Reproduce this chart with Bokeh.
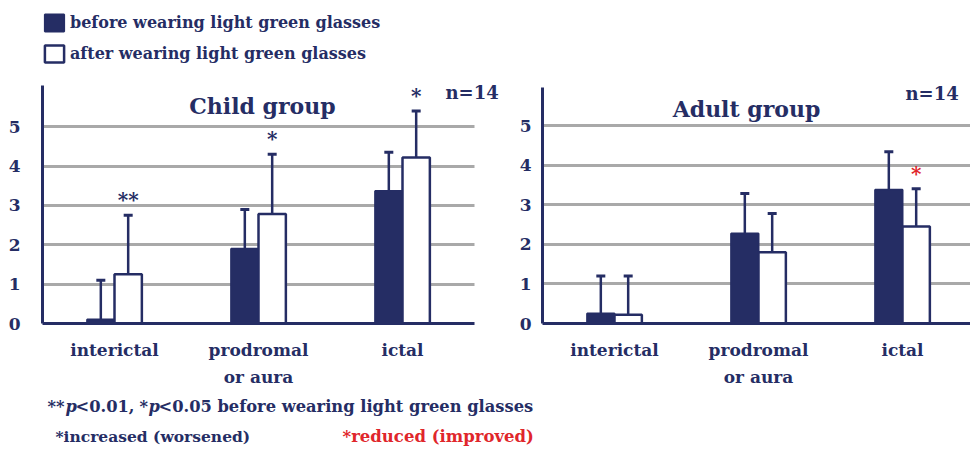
from bokeh.plotting import figure
from bokeh.models import (ColumnDataSource, Whisker, TeeHead, FixedTicker, Label,
                          Legend, LegendItem, Range1d)
from bokeh.layouts import row, column
from bokeh.embed import file_html
from bokeh.resources import INLINE
from bokeh.core.properties import value

# ---- data -------------------------------------------------------------
categories = ["interictal", "prodromal\nor aura", "ictal"]
y_ticks = [0, 1, 2, 3, 4, 5]

child_before = [0.10, 1.90, 3.37]
child_before_sd = [1.00, 1.00, 0.98]
child_after = [1.25, 2.78, 4.22]
child_after_sd = [1.50, 1.52, 1.18]
child_marks = ["**", "*", "*"]

adult_before = [0.25, 2.27, 3.38]
adult_before_sd = [0.95, 1.01, 0.96]
adult_after = [0.22, 1.80, 2.45]
adult_after_sd = [0.98, 0.98, 0.95]
adult_marks = ["", "", "*"]

# ---- style ------------------------------------------------------------
NAVY = "#252d64"
RED = "#e0262b"
GRID = "#a9a9a9"
FONT = "DejaVu Serif"
BAR_W = 0.19
X_UNIT = 144          # pixels per category
PANEL_H = 395         # height of the two chart panels
FOOT_H = 451 - PANEL_H


def panel(before, before_sd, after, after_sd, marks, mark_color,
          width, border_left, frame_bottom, y_unit, y_axis_top, y_standoff):
    x_end = -0.5 + (width - border_left) / X_UNIT
    y_end = frame_bottom / y_unit
    p = figure(width=width, height=PANEL_H,
               x_range=Range1d(-0.5, x_end), y_range=Range1d(0, y_end),
               output_backend="svg", toolbar_location=None,
               min_border_left=border_left, min_border_right=0,
               min_border_top=0, min_border_bottom=PANEL_H - frame_bottom,
               background_fill_color="white", border_fill_color="white",
               outline_line_color=None)

    xs = list(range(len(categories)))
    src_b = ColumnDataSource(dict(
        x=[i - BAR_W / 2 for i in xs], top=before,
        upper=[m + s for m, s in zip(before, before_sd)]))
    src_a = ColumnDataSource(dict(
        x=[i + BAR_W / 2 for i in xs], top=after,
        upper=[m + s for m, s in zip(after, after_sd)], mark=marks))

    rb = p.vbar(x="x", top="top", width=BAR_W, source=src_b,
                fill_color=NAVY, line_color=NAVY, line_width=2)
    ra = p.vbar(x="x", top="top", width=BAR_W, source=src_a,
                fill_color="white", line_color=NAVY, line_width=2.5)

    for src in (src_b, src_a):
        p.add_layout(Whisker(base="x", lower="top", upper="upper", source=src,
                             line_color=NAVY, line_width=2.5,
                             upper_head=TeeHead(size=9, line_color=NAVY, line_width=3),
                             lower_head=None))

    # significance marks above the "after" bars
    p.text(x="x", y="upper", text="mark", source=src_a,
           text_color=mark_color, text_font=value(FONT), text_font_style="bold",
           text_font_size="20px", text_align="center", text_baseline="middle",
           y_offset=-15)

    # axes
    p.xaxis.ticker = FixedTicker(ticks=xs)
    p.xaxis.major_label_overrides = {i: c for i, c in enumerate(categories)}
    p.xaxis.bounds = (-0.5, min(2.5, x_end))
    p.yaxis.ticker = FixedTicker(ticks=y_ticks)
    p.yaxis.bounds = (0, y_axis_top)
    for ax in (p.xaxis[0], p.yaxis[0]):
        ax.axis_line_color = NAVY
        ax.axis_line_width = 3
        ax.major_tick_line_color = None
        ax.minor_tick_line_color = None
        ax.major_label_text_font = FONT
        ax.major_label_text_font_style = "bold"
        ax.major_label_text_color = NAVY
    p.xaxis.major_label_text_font_size = "17px"
    p.xaxis.major_label_text_line_height = 1.35
    p.xaxis.major_label_standoff = 10
    p.yaxis.major_label_text_font_size = "17px"
    p.yaxis.major_label_standoff = y_standoff

    p.xgrid.visible = False
    p.ygrid.ticker = FixedTicker(ticks=y_ticks[1:])
    p.ygrid.cross_bounds = (-0.5, min(2.5, x_end))
    p.ygrid.grid_line_color = GRID
    p.ygrid.grid_line_width = 3
    return p, rb, ra


C_UNIT = 241 / 6.05
A_UNIT = 236 / 5.96

child, rb, ra = panel(child_before, child_before_sd, child_after, child_after_sd,
                      child_marks, NAVY, width=515, border_left=42,
                      frame_bottom=327, y_unit=C_UNIT, y_axis_top=6.05, y_standoff=16)
adult, _, _ = panel(adult_before, adult_before_sd, adult_after, adult_after_sd,
                    adult_marks, RED, width=455, border_left=27,
                    frame_bottom=323, y_unit=A_UNIT, y_axis_top=5.96, y_standoff=5)


# pixel -> data helpers for text placement in each panel
def cx(px):
    return -0.5 + (px - 42) / X_UNIT


def cy(py):
    return (327 - py) / C_UNIT


def ax_(px):
    return -0.5 + (px - 542) / X_UNIT


def ay(py):
    return (323 - py) / A_UNIT


def lab(p, x, y, text, color=NAVY, size="15px", style="bold", align="left"):
    p.add_layout(Label(x=x, y=y, text=text, text_color=color, text_font=FONT,
                       text_font_style=style, text_font_size=size,
                       text_align=align, text_baseline="middle"))


# panel titles and sample sizes
lab(child, cx(262), cy(107), "Child group", size="22px", align="center")
lab(child, cx(445), cy(93), "n=14", size="18px")
lab(adult, ax_(746), ay(108), "Adult group", size="22px", align="center")
lab(adult, ax_(905), ay(93), "n=14", size="18px")

# legend
legend = Legend(items=[LegendItem(label="before wearing light green glasses", renderers=[rb]),
                       LegendItem(label="after wearing light green glasses", renderers=[ra])],
                location=(0, 259), orientation="vertical",
                glyph_width=24, glyph_height=21, label_height=21, spacing=10,
                label_standoff=4, padding=0, margin=0,
                label_text_font=FONT, label_text_font_style="bold",
                label_text_font_size="16px", label_text_color=NAVY,
                border_line_color=None, background_fill_alpha=0)
child.add_layout(legend)

# footnotes in a strip below both panels (pixel coordinates, y downward)
foot = figure(width=970, height=FOOT_H, x_range=Range1d(0, 970),
              y_range=Range1d(FOOT_H, 0), x_axis_type=None, y_axis_type=None,
              output_backend="svg", toolbar_location=None,
              min_border=0, outline_line_color=None)
foot.grid.visible = False
fy = 406 - PANEL_H
fs = "16.3px"
lab(foot, 47, fy, "**", size=fs)
lab(foot, 65, fy, "p", style="bold italic", size=fs)
lab(foot, 75, fy, "<0.01,", size=fs)
lab(foot, 139, fy, "*", size=fs)
lab(foot, 148, fy, "p", style="bold italic", size=fs)
lab(foot, 158, fy, "<0.05 before wearing light green glasses", size=fs)
lab(foot, 55, 436 - PANEL_H, "*increased (worsened)", size="15.5px")
lab(foot, 342, 436 - PANEL_H, "*reduced (improved)", color=RED, size="16.5px")

layout = column(row(child, adult), foot)
open("out.html", "w").write(file_html(layout, INLINE))
